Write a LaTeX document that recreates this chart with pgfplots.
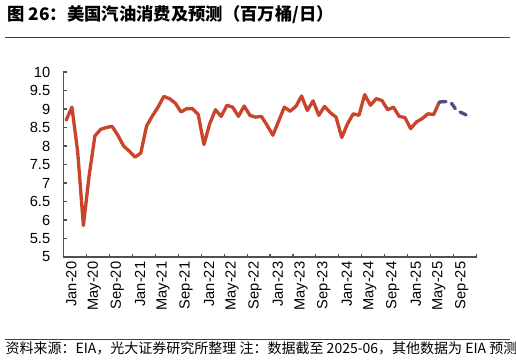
\documentclass[border=0pt]{standalone}
\usepackage{fontspec}
\setmainfont{Liberation Sans}
\newfontfamily\cjk{Noto Sans CJK SC}
\usepackage{pgfplots}
\pgfplotsset{compat=1.18}
\definecolor{redline}{HTML}{C9442B}
\definecolor{fcline}{HTML}{4F4F7F}
\definecolor{axiscol}{HTML}{505050}
\definecolor{ruleline}{HTML}{404040}
\begin{document}
\begin{tikzpicture}
\path[use as bounding box] (0,0) rectangle (387pt,270.75pt);
\node[anchor=base west, inner sep=0pt, font=\cjk\bfseries\fontsize{13}{15}\selectfont] at (5.25pt,255pt) {图 26：美国汽油消费及预测（百万桶/日）};
\draw[line width=0.8pt, color=ruleline] (4pt,242.6pt) -- (382.5pt,242.6pt);
\draw[line width=0.8pt, color=ruleline] (4pt,16.3pt) -- (382.5pt,16.3pt);
\node[anchor=base west, inner sep=0pt, font=\cjk\fontsize{10.5}{12}\selectfont] at (4pt,5.5pt) {资料来源：EIA，光大证券研究所整理 注：数据截至 2025-06，其他数据为 EIA 预测};
\begin{axis}[
  at={(47.475pt,78pt)}, anchor=south west,
  scale only axis, width=310.05pt, height=138.75pt,
  xmin=0, xmax=72, ymin=5, ymax=10,
  axis x line*=bottom, axis y line*=left,
  axis line style={draw=axiscol, line width=0.8pt},
  tick align=inside,
  major tick length=2.5pt,
  tick style={draw=axiscol, line width=0.8pt},
  xtick={0,4,...,72}, xticklabels={},
  extra x ticks={0.5,4.5,...,68.5},
  extra x tick labels={Jan-20,May-20,Sep-20,Jan-21,May-21,Sep-21,Jan-22,May-22,Sep-22,Jan-23,May-23,Sep-23,Jan-24,May-24,Sep-24,Jan-25,May-25,Sep-25},
  extra x tick style={major tick length=0pt},
  xticklabel style={rotate=90, anchor=east, font=\fontsize{11}{13}\selectfont, yshift=-3.8pt},
  ytick={5,5.5,6,6.5,7,7.5,8,8.5,9,9.5,10},
  yticklabel style={font=\fontsize{11}{13}\selectfont, xshift=-6.3pt},
  /pgf/number format/assume math mode=true,
  clip=false,
]
\addplot[redline, line width=2.5pt, line join=round, line cap=round] coordinates {
(0.5,8.70) (1.5,9.05) (2.5,7.85) (3.5,5.85) (4.5,7.20) (5.5,8.27) (6.5,8.45) (7.5,8.50)
(8.5,8.53) (9.5,8.29) (10.5,8.00) (11.5,7.86) (12.5,7.70) (13.5,7.81) (14.5,8.54) (15.5,8.81)
(16.5,9.05) (17.5,9.34) (18.5,9.28) (19.5,9.16) (20.5,8.92) (21.5,9.01) (22.5,9.01) (23.5,8.85)
(24.5,8.04) (25.5,8.60) (26.5,8.98) (27.5,8.80) (28.5,9.10) (29.5,9.05) (30.5,8.80) (31.5,9.08)
(32.5,8.83) (33.5,8.78) (34.5,8.80) (35.5,8.56) (36.5,8.29) (37.5,8.67) (38.5,9.05) (39.5,8.94)
(40.5,9.07) (41.5,9.35) (42.5,8.96) (43.5,9.22) (44.5,8.83) (45.5,9.07) (46.5,8.90) (47.5,8.78)
(48.5,8.23) (49.5,8.60) (50.5,8.87) (51.5,8.83) (52.5,9.39) (53.5,9.10) (54.5,9.28) (55.5,9.23)
(56.5,8.98) (57.5,9.05) (58.5,8.80) (59.5,8.77) (60.5,8.47) (61.5,8.65) (62.5,8.74) (63.5,8.87)
(64.5,8.85) (65.5,9.19)
};
\addplot[fcline, line width=2.5pt, line join=round, line cap=round, dash pattern=on 5pt off 4.5pt] coordinates {
(65.5,9.19) (66.5,9.20) (67.5,9.18) (68.5,8.96) (69.5,8.89) (70.5,8.81)
};
\end{axis}
\end{tikzpicture}
\end{document}
